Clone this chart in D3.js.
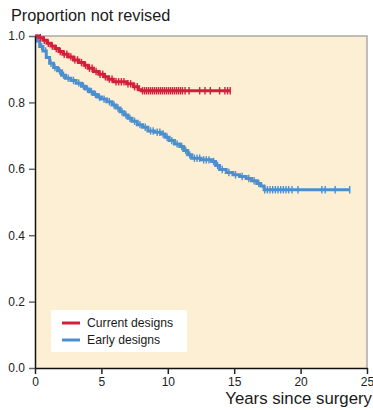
<!DOCTYPE html>
<html>
<head>
<meta charset="utf-8">
<script src="https://cdn.jsdelivr.net/npm/d3@7"></script>
<style>
  body { margin: 0; background: #fff; }
  text { font-family: "Liberation Sans", Arial, sans-serif; }
</style>
</head>
<body>
<div id="chart"></div>
<script>
// Current designs (red)
var currentTimes = [0, 0.3, 0.6, 0.9, 1.2, 1.5, 1.8, 2.1, 2.5, 2.9, 3.3, 3.7, 4.0, 4.4, 4.8, 5.2, 5.5, 5.9, 6.9, 7.4, 7.8, 8.0];
var currentSurv  = [1.0, 0.995, 0.987, 0.978, 0.97, 0.962, 0.953, 0.945, 0.937, 0.928, 0.92, 0.912, 0.903, 0.893, 0.885,
  0.877, 0.87, 0.862, 0.856, 0.847, 0.838, 0.835];
var currentEnd = 14.7;
var currentCensor = [0.4, 0.7, 1.0, 1.3, 1.6, 1.9, 2.2, 2.4, 2.7, 3.0, 3.2, 3.5, 3.8, 4.1, 4.3, 4.6, 4.9, 5.1, 5.3, 5.6,
  5.8, 6.1, 6.3, 6.5, 6.7, 7.0, 7.2, 7.5, 7.7,
  8.1, 8.25, 8.4, 8.55, 8.7, 8.85, 9.0, 9.15, 9.3, 9.45, 9.6, 9.75, 9.9, 10.05, 10.2, 10.35, 10.5, 10.65, 10.8, 10.95,
  11.1, 11.3, 11.6, 12.4, 12.8, 13.2, 13.9, 14.3, 14.5, 14.7];

// Early designs (blue)
var earlyTimes = [0, 0.15, 0.35, 0.6, 0.85, 1.1, 1.4, 1.7, 2.0, 2.3, 2.7, 3.1, 3.5, 3.8, 4.1, 4.4, 4.7, 5.0, 5.4, 5.8,
  6.1, 6.4, 6.7, 7.0, 7.3, 7.7, 8.1, 8.5, 9.0, 9.5, 9.8, 10.1, 10.5, 10.9, 11.2, 11.5, 11.8, 12.5, 13.3, 13.6, 13.9,
  14.4, 14.9, 15.4, 15.9, 16.3, 16.7, 17.0, 17.25];
var earlySurv  = [1.0, 0.985, 0.968, 0.955, 0.935, 0.918, 0.905, 0.895, 0.882, 0.873, 0.866, 0.858, 0.849, 0.84, 0.832,
  0.824, 0.816, 0.81, 0.802, 0.792, 0.783, 0.772, 0.762, 0.752, 0.743, 0.733, 0.725, 0.714, 0.71, 0.705, 0.695, 0.685,
  0.675, 0.667, 0.655, 0.642, 0.632, 0.627, 0.622, 0.61, 0.598, 0.589, 0.582, 0.577, 0.571, 0.564, 0.556, 0.548, 0.537];
var earlyEnd = 23.7;
var earlyCensor = [0.5, 0.8, 1.2, 1.5, 1.85, 2.15, 2.5, 2.9, 3.3, 3.65, 3.95, 4.25, 4.55, 4.85, 5.2, 5.6, 5.95, 6.25,
  6.55, 6.85, 7.15, 7.5, 7.9, 8.3, 8.7, 8.9, 9.2, 9.4, 9.65, 9.95, 10.3, 10.7, 11.05, 11.35, 11.65, 12.0, 12.2, 12.4,
  12.7, 12.9, 13.1, 13.45, 13.75, 14.1, 14.6, 15.1, 15.6, 16.1, 16.5, 16.85,
  17.3, 17.5, 17.7, 17.9, 18.1, 18.3, 18.5, 18.7, 18.9, 19.1, 19.35, 19.8, 21.6, 21.85, 22.6, 23.7];

var xTicks = [0, 5, 10, 15, 20, 25];
var yTicks = [0, 0.2, 0.4, 0.6, 0.8, 1.0];
var seriesNames = ["Current designs", "Early designs"];
var red = "#d41e3c", blue = "#4b8fd1";

var margin = {top: 36, right: 6, bottom: 42, left: 35},
    width = 373 - margin.left - margin.right,
    height = 410 - margin.top - margin.bottom;

var svg = d3.select("#chart").append("svg")
    .attr("width", 373)
    .attr("height", 410);

var canvas = svg.append("g")
    .attr("transform", "translate(" + margin.left + "," + margin.top + ")");

var x = d3.scaleLinear().domain([0, 25]).range([0, width]);
var y = d3.scaleLinear().domain([0, 1]).range([height, 0]);

canvas.append("rect")
    .attr("width", width)
    .attr("height", height)
    .attr("fill", "#fdefd3");

// grey frame top and right
canvas.append("path")
    .attr("d", "M0,0H" + width + "V" + height)
    .attr("fill", "none")
    .attr("stroke", "#aaa")
    .attr("stroke-width", 1.5);

function stepPoints(times, surv, end) {
  var pts = times.map(function (t, i) { return [t, surv[i]]; });
  pts.push([end, surv[surv.length - 1]]);
  return pts;
}

function survAt(times, surv, t) {
  return surv[Math.max(0, d3.bisectRight(times, t) - 1)];
}

var line = d3.line()
    .x(function (d) { return x(d[0]); })
    .y(function (d) { return y(d[1]); })
    .curve(d3.curveStepAfter);

var series = [
  {times: earlyTimes, surv: earlySurv, end: earlyEnd, censor: earlyCensor, color: blue},
  {times: currentTimes, surv: currentSurv, end: currentEnd, censor: currentCensor, color: red}
];

series.forEach(function (s) {
  canvas.append("path")
      .datum(stepPoints(s.times, s.surv, s.end))
      .attr("d", line)
      .attr("fill", "none")
      .attr("stroke", s.color)
      .attr("stroke-width", 3);

  canvas.selectAll(null)
      .data(s.censor)
      .enter().append("line")
      .attr("x1", function (d) { return x(d); })
      .attr("x2", function (d) { return x(d); })
      .attr("y1", function (d) { return y(survAt(s.times, s.surv, d)) - 3.7; })
      .attr("y2", function (d) { return y(survAt(s.times, s.surv, d)) + 3.7; })
      .attr("stroke", s.color)
      .attr("stroke-width", 1.4);
});

// axes
var yAxis = canvas.append("g")
    .call(d3.axisLeft(y).tickValues(yTicks).tickFormat(d3.format(".1f")).tickSize(6).tickSizeOuter(0));
yAxis.select(".domain").attr("stroke", "#111").attr("stroke-width", 1.5);
yAxis.selectAll(".tick line").attr("stroke", "#666").attr("stroke-width", 1.5);
yAxis.selectAll(".tick text").attr("font-size", "12px").attr("fill", "#222")
    .attr("font-family", "Liberation Sans, Arial, sans-serif").attr("x", -10);

var xAxis = canvas.append("g")
    .attr("transform", "translate(0," + height + ")")
    .call(d3.axisBottom(x).tickValues(xTicks).tickSize(6).tickSizeOuter(0));
xAxis.select(".domain").attr("stroke", "#111").attr("stroke-width", 1.5);
xAxis.selectAll(".tick line").attr("stroke", "#222").attr("stroke-width", 1.5);
xAxis.selectAll(".tick text").attr("font-size", "12px").attr("fill", "#222")
    .attr("font-family", "Liberation Sans, Arial, sans-serif").attr("y", 9);

// titles
svg.append("text")
    .text("Proportion not revised")
    .attr("x", 11)
    .attr("y", 21)
    .attr("font-size", "16.3px")
    .attr("fill", "#1a1a1a");

svg.append("text")
    .text("Years since surgery")
    .attr("x", 372)
    .attr("y", 404)
    .attr("text-anchor", "end")
    .attr("font-size", "16.8px")
    .attr("fill", "#1a1a1a");

// legend
var legend = svg.append("g").attr("transform", "translate(51,310)");
legend.append("rect")
    .attr("width", 136)
    .attr("height", 42)
    .attr("fill", "#fff");

legend.selectAll("line")
    .data(seriesNames)
    .enter().append("line")
    .attr("x1", 11)
    .attr("x2", 29)
    .attr("y1", function (d, i) { return 13 + i * 17; })
    .attr("y2", function (d, i) { return 13 + i * 17; })
    .attr("stroke", function (d, i) { return i === 0 ? red : blue; })
    .attr("stroke-width", 3);

legend.selectAll("text")
    .data(seriesNames)
    .enter().append("text")
    .text(function (d) { return d; })
    .attr("x", 36)
    .attr("y", function (d, i) { return 17 + i * 17; })
    .attr("font-size", "12.2px")
    .attr("fill", "#1a1a1a");
</script>
</body>
</html>
